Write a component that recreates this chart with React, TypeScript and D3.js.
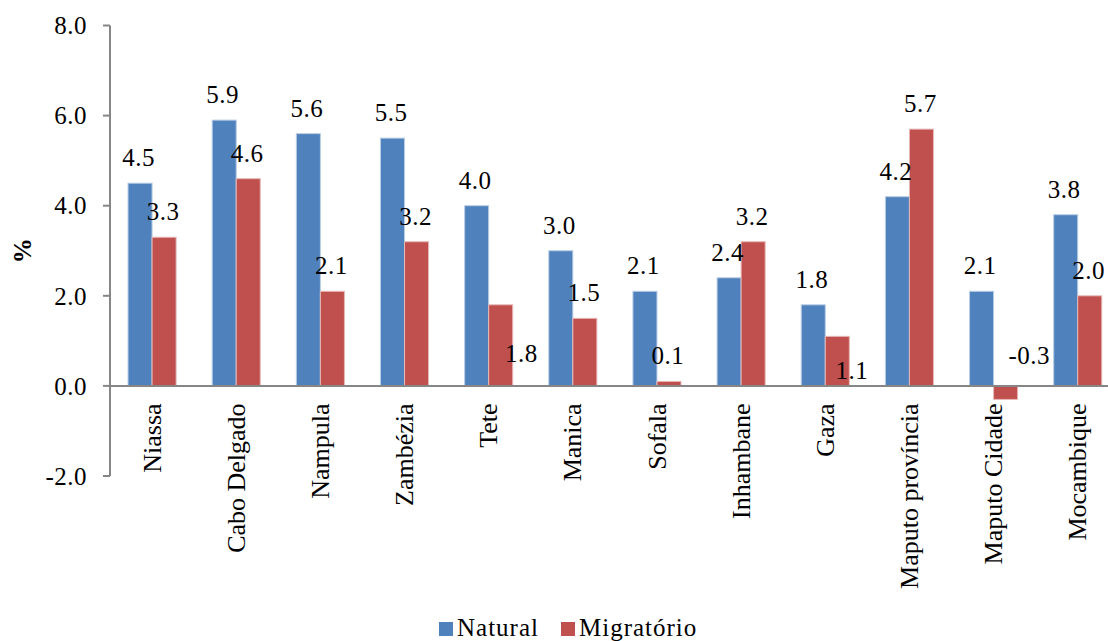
import React from "react";
import * as d3 from "d3";

// Regions of Mozambique, growth components (%)
const categories = [
  "Niassa",
  "Cabo Delgado",
  "Nampula",
  "Zambézia",
  "Tete",
  "Manica",
  "Sofala",
  "Inhambane",
  "Gaza",
  "Maputo província",
  "Maputo Cidade",
  "Mocambique",
];
const natural = [4.5, 5.9, 5.6, 5.5, 4.0, 3.0, 2.1, 2.4, 1.8, 4.2, 2.1, 3.8];
const migratorio = [3.3, 4.6, 2.1, 3.2, 1.8, 1.5, 0.1, 3.2, 1.1, 5.7, -0.3, 2.0];
const seriesNames = ["Natural", "Migratório"];
const yTicks = [-2, 0, 2, 4, 6, 8];

// Hand-placed data labels for a few Migratório bars (pixel nudges)
const migLabelNudge: Record<string, [number, number]> = {
  Tete: [20.6, 74.2],
  Gaza: [14.7, 59.3],
  "Maputo Cidade": [23.7, -18.7],
};

const W = 1108;
const H = 641;
const TXT = { fontFamily: "Liberation Serif" };
const COLORS = ["#4F81BD", "#C0504D"];
const STROKES = ["#B9CDE5", "#E6B9B8"];
const AXIS = "#868686";

// one decimal, plain hyphen for negatives
const fmt = (v: number) => d3.format(".1f")(v).replace("\u2212", "-");

export default function App() {
  const left = 110;
  const step = 84.15;
  const x0 = d3
    .scaleBand<string>()
    .domain(categories)
    .range([left, left + step * categories.length])
    .paddingInner(36.07 / step)
    .paddingOuter(18.03 / step);
  const x1 = d3
    .scaleBand<string>()
    .domain(seriesNames)
    .range([0, x0.bandwidth()]);
  const y = d3.scaleLinear().domain([-2, 8]).range([476, 25.5]);
  const series = [natural, migratorio];

  return (
    <svg
      width={W}
      height={H}
      style={{ position: "absolute", left: 0, top: 0, background: "#fff" }}
    >
      {/* y axis */}
      <line x1={left} x2={left} y1={y(8)} y2={y(-2)} stroke={AXIS} strokeWidth={2} />
      {yTicks.map((t) => (
        <g key={t}>
          <line x1={left - 7} x2={left} y1={y(t)} y2={y(t)} stroke={AXIS} strokeWidth={2} />
          <text x={87} y={y(t)} dy="0.35em" textAnchor="end" fontSize={25} fill="#000" style={TXT} letterSpacing={0.5}>
            {fmt(t)}
          </text>
        </g>
      ))}
      <text
        transform={`translate(22,${(y(8) + y(-2)) / 2}) rotate(-90)`}
        textAnchor="middle"
        dy="0.35em"
        fontSize={25}
        fontWeight="bold"
        style={TXT}
      >
        %
      </text>

      {/* bars */}
      {categories.map((c, i) => (
        <g key={c}>
          {series.map((vals, s) => {
            const v = vals[i];
            const bx = (x0(c) as number) + (x1(seriesNames[s]) as number);
            return (
              <rect
                key={s}
                x={bx}
                width={x1.bandwidth()}
                y={y(Math.max(v, 0))}
                height={Math.abs(y(v) - y(0))}
                fill={COLORS[s]}
                stroke={STROKES[s]}
                strokeWidth={1}
              />
            );
          })}
        </g>
      ))}

      {/* x axis */}
      <line x1={left} x2={W} y1={y(0)} y2={y(0)} stroke={AXIS} strokeWidth={2} />

      {/* data labels */}
      {categories.map((c, i) =>
        series.map((vals, s) => {
          const v = vals[i];
          const bx = (x0(c) as number) + (x1(seriesNames[s]) as number);
          const cx = bx + x1.bandwidth() / 2;
          const nudge = s === 1 ? migLabelNudge[c] : undefined;
          const dx = nudge ? nudge[0] : s === 0 ? -1.5 : -1;
          const dy = nudge ? nudge[1] : 0;
          return (
            <text
              key={`${c}-${s}`}
              x={cx + dx}
              y={y(v) - 17 + dy}
              textAnchor="middle"
              fontSize={25}
              fill="#000"
              style={TXT}
              letterSpacing={0.5}
            >
              {fmt(v)}
            </text>
          );
        })
      )}

      {/* category labels */}
      {categories.map((c) => {
        const cx = (x0(c) as number) + x0.bandwidth() / 2;
        return (
          <text
            key={c}
            transform={`translate(${cx},${y(0) + 17.5}) rotate(-90)`}
            textAnchor="end"
            dy="0.33em"
            fontSize={26}
            fill="#000"
            style={TXT}
          >
            {c}
          </text>
        );
      })}

      {/* legend */}
      {seriesNames.map((n, s) => {
        const lx = s === 0 ? 439 : 561;
        return (
          <g key={n}>
            <rect x={lx} y={622} width={14} height={14} fill={COLORS[s]} />
            <text x={lx + 18} y={636} fontSize={25} letterSpacing={1} fill="#000" style={TXT}>
              {n}
            </text>
          </g>
        );
      })}
    </svg>
  );
}
